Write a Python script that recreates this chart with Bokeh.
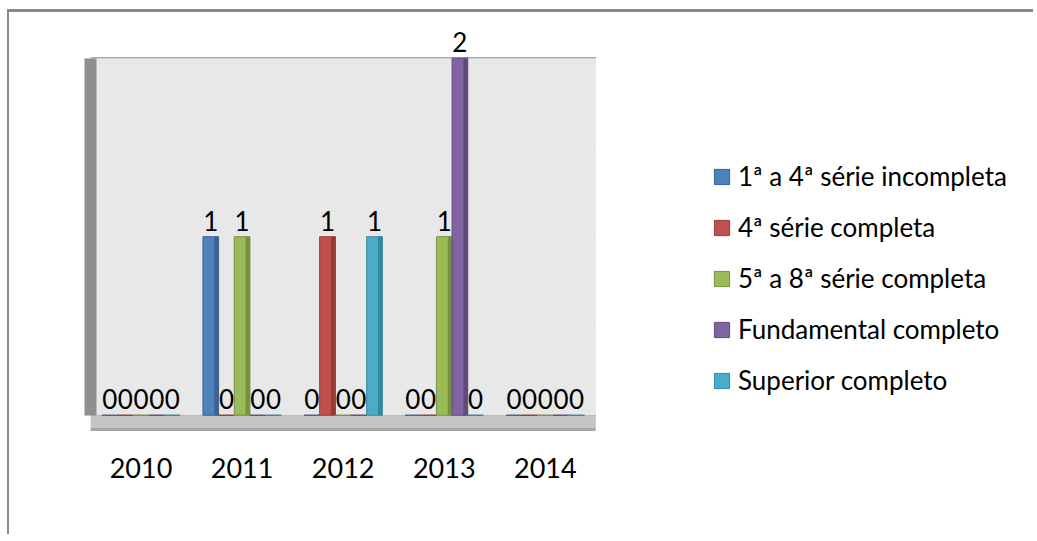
from bokeh.plotting import figure
from bokeh.models import ColumnDataSource, LabelSet, Legend, LegendItem, BoxAnnotation, FixedTicker
from bokeh.core.properties import value
from bokeh.embed import file_html
from bokeh.resources import INLINE

years = ["2010", "2011", "2012", "2013", "2014"]
series_names = [
    "1ª a 4ª série incompleta",
    "4ª série completa",
    "5ª a 8ª série completa",
    "Fundamental completo",
    "Superior completo",
]
s_1a4_incompleta = [0, 1, 0, 0, 0]
s_4_completa = [0, 0, 1, 0, 0]
s_5a8_completa = [0, 1, 0, 1, 0]
s_fundamental = [0, 0, 0, 2, 0]
s_superior = [0, 0, 1, 0, 0]
y_ticks = [0, 0.5, 1, 1.5, 2]

series_values = [s_1a4_incompleta, s_4_completa, s_5a8_completa, s_fundamental, s_superior]
colors = ["#4F81BD", "#C0504D", "#9BBB59", "#8064A2", "#4BACC6"]
sides = ["#3A6393", "#963A38", "#779143", "#5F4A7B", "#35879C"]

FONT = "Lato"

xs = list(range(len(years)))
x_lo, x_hi = xs[0] - 0.5, xs[-1] + 0.5

p = figure(
    x_range=(x_lo, 8.85),
    y_range=(-0.08, 2.2),
    width=1026, height=525,
    output_backend="svg", toolbar_location=None,
    min_border_left=81, min_border_right=0, min_border_top=10, min_border_bottom=108,
    outline_line_color=None,
    styles={"border-top": "3px solid #8a8a8a", "border-left": "2px solid #8a8a8a",
            "margin-left": "7px", "margin-top": "9px"},
)

# back wall and floor
p.add_layout(BoxAnnotation(left=x_lo, right=x_hi, bottom=y_ticks[0], top=y_ticks[-1],
                           fill_color="#E8E8E8", fill_alpha=1.0, line_color=None, level="underlay"))
p.add_layout(BoxAnnotation(left=x_lo, right=x_hi, top=y_ticks[0], fill_color="#C4C4C4",
                           fill_alpha=1.0, line_color=None, level="underlay"))

# gridlines on the wall
p.segment(x0=[x_lo] * len(y_ticks), x1=[x_hi] * len(y_ticks), y0=y_ticks, y1=y_ticks,
          line_color="#8A8A8A", line_width=2, level="underlay")

step = 0.155
offsets = [(i - 2) * step for i in range(5)]
items = []
for name, vals, c, sc, off in zip(series_names, series_values, colors, sides, offsets):
    src = ColumnDataSource(dict(x=[xi + off for xi in xs], xs=[xi + off + step * 0.36 for xi in xs],
                                top=vals, lab=[str(v) for v in vals]))
    r = p.vbar(x="x", top="top", bottom=0, width=step, source=src,
               fill_color=c, line_color=sc, line_width=1)
    p.vbar(x="xs", top="top", bottom=0, width=step * 0.28, source=src,
           fill_color=sc, line_color=None)
    items.append(LegendItem(label=name, renderers=[r]))
    p.add_layout(LabelSet(x="x", y="top", text="lab", source=src,
                          text_align="center", text_baseline="bottom", y_offset=6,
                          text_font=value(FONT), text_font_size="26px", text_color="#000000"))

p.grid.visible = False

p.yaxis.ticker = FixedTicker(ticks=[])
p.yaxis.bounds = (y_ticks[0], y_ticks[-1])
p.yaxis.axis_line_color = "#8E8E8E"
p.yaxis.axis_line_width = 12
p.yaxis.major_tick_line_color = None
p.yaxis.minor_tick_line_color = None

p.xaxis.ticker = FixedTicker(ticks=xs)
p.xaxis.major_label_overrides = {xi: y for xi, y in zip(xs, years)}
p.xaxis.bounds = (x_lo, x_hi)
p.xaxis.axis_line_color = "#A6A6A6"
p.xaxis.axis_line_width = 3
p.xaxis.major_tick_line_color = None
p.xaxis.minor_tick_line_color = None
p.xaxis.major_label_text_font = FONT
p.xaxis.major_label_text_font_size = "27px"
p.xaxis.major_label_text_color = "#000000"
p.xaxis.major_label_standoff = 22

legend = Legend(items=items, location=(622, 33), orientation="vertical",
                border_line_color=None, background_fill_alpha=0,
                label_text_font=FONT, label_text_font_size="26px", label_text_color="#000000",
                glyph_width=19, glyph_height=19, label_height=20, spacing=19,
                label_standoff=7, padding=0, margin=0)
p.add_layout(legend)

open("out.html", "w").write(file_html(p, INLINE))
